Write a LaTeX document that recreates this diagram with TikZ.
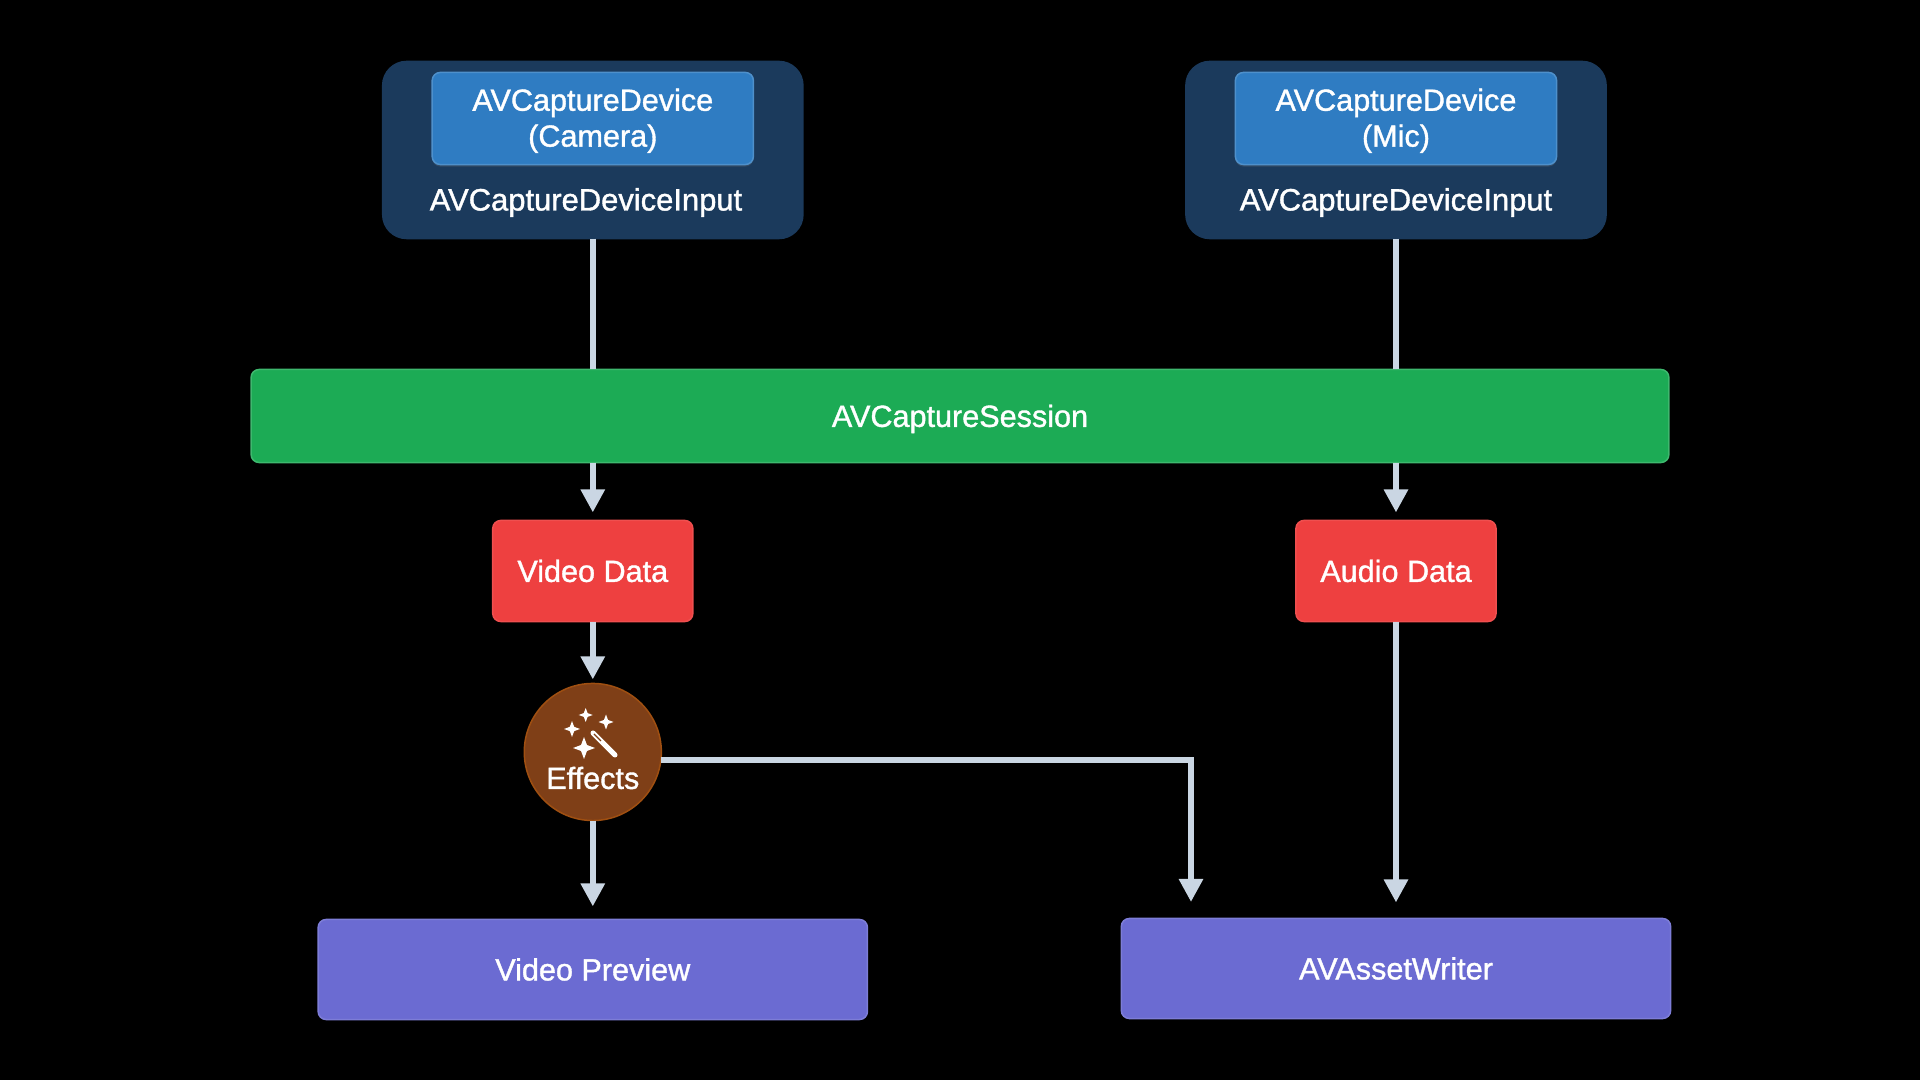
\documentclass[tikz,border=0pt]{standalone}
\usepackage{fontspec}
\setmainfont[UprightFeatures={FakeBold=1.2}]{Liberation Sans}
\usetikzlibrary{arrows.meta,shadows}

\definecolor{inputblue}{HTML}{1B3A5C}
\definecolor{deviceblue}{HTML}{2F7CC2}
\definecolor{sessiongreen}{HTML}{1CAB55}
\definecolor{datared}{HTML}{EE4040}
\definecolor{effectbrown}{HTML}{7F3F17}
\definecolor{sinkpurple}{HTML}{6B6BD2}
\definecolor{wirecolor}{HTML}{CAD6E3}

\tikzset{
    label text/.style={text=white,font=\fontsize{8.7}{10.2}\selectfont,align=center},
    box/.style={label text,rounded corners=0.08cm,inner sep=0pt,outer sep=0pt,line width=0.15mm},
    one line/.style={text height=6.2pt,text depth=0pt},
    inputbox/.style={box,fill=inputblue,draw=inputblue,rounded corners=0.24cm,minimum width=4.2cm,minimum height=1.77cm},
    devicebox/.style={box,fill=deviceblue,draw=deviceblue!85!white,minimum width=3.21cm,minimum height=0.92cm,text depth=0.5pt,
        drop shadow={shadow xshift=0cm,shadow yshift=-0.02cm,opacity=0.25}},
    sessionbox/.style={box,one line,fill=sessiongreen,draw=sessiongreen!85!white,minimum width=14.17cm,minimum height=0.93cm},
    databox/.style={box,one line,fill=datared,draw=datared!92!white,minimum width=2cm,minimum height=1.01cm},
    sinkbox/.style={box,one line,fill=sinkpurple,draw=sinkpurple!88!white,minimum width=5.49cm,minimum height=1cm},
    effectcircle/.style={circle,fill=effectbrown,draw=effectbrown!75!orange,line width=0.15mm,inner sep=0pt,outer sep=0pt,minimum size=1.37cm},
    wire/.style={draw=wirecolor,line width=0.6mm},
    arrow/.style={wire,-{Triangle[length=2.3mm,width=2.3mm]},shorten >=0.08cm}
}

\begin{document}
\begin{tikzpicture}[x=0.01cm,y=-0.01cm]

    \useasboundingbox[fill=black] (0,0) rectangle (1920,1080);

    % inputs
    \node[inputbox] (cameraInput) at (592.8,150) {};
    \node[inputbox] (micInput) at (1396,150) {};
    \node[devicebox] (camera) at (592.8,118.5) {AVCaptureDevice\\(Camera)};
    \node[devicebox] (mic) at (1396,118.5) {AVCaptureDevice\\(Mic)};
    \node[label text,font=\fontsize{8.8}{10.2}\selectfont] (cameraLabel) at (586,202.5) {AVCaptureDeviceInput};
    \node[label text,font=\fontsize{8.8}{10.2}\selectfont] (micLabel) at (1396,202.5) {AVCaptureDeviceInput};

    \node[sessionbox] (session) at (960,416) {AVCaptureSession};

    \node[databox] (video) at (592.8,571) {Video Data};
    \node[databox] (audio) at (1396,571) {Audio Data};

    \node[effectcircle] (effects) at (592.8,752) {};
    \node[label text] (effectsLabel) at (592.8,778) {Effects};

    \node[sinkbox] (preview) at (592.8,969.5) {Video Preview};
    \node[sinkbox] (writer) at (1396,968.5) {AVAssetWriter};

    % wand
    \foreach \x/\y/\r in {585.7/715/7,606/722/7.5,572/729/8,584/748/11}
        \fill[white] (\x,\y-\r) -- (\x+.27*\r,\y-.27*\r) -- (\x+\r,\y) -- (\x+.27*\r,\y+.27*\r)
            -- (\x,\y+\r) -- (\x-.27*\r,\y+.27*\r) -- (\x-\r,\y) -- (\x-.27*\r,\y-.27*\r) -- cycle;
    \draw[white,line width=0.5mm,line cap=round] (593,733) -- (615,755);
    \draw[effectbrown,line width=0.12mm] (594,734) -- (601,741);

    \coordinate (writerIn) at (1191,918);

    \path[wire] (cameraInput) -- (session.north -| cameraInput);
    \path[wire] (micInput) -- (session.north -| micInput);
    \path[arrow] (session.south -| video) -- (video);
    \path[arrow] (session.south -| audio) -- (audio);
    \path[arrow,shorten >=0.04cm] (video) -- (effects);
    \path[arrow,shorten >=0.13cm] (effects) -- (preview);
    \path[arrow,shorten >=0.16cm] (effects.-7) -| (writerIn);
    \path[arrow,shorten >=0.16cm] (audio) -- (writer);

\end{tikzpicture}
\end{document}
